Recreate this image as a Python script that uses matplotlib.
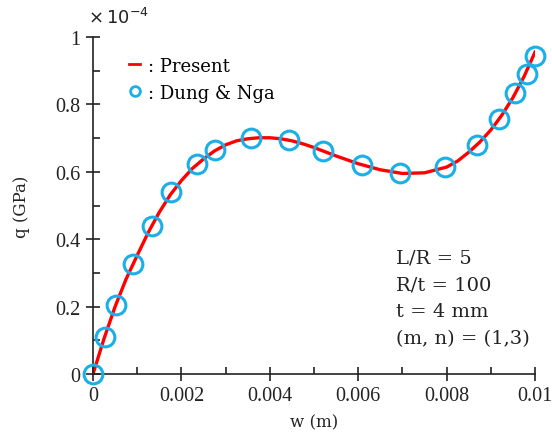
import matplotlib
matplotlib.use("Agg")
import matplotlib.pyplot as plt
from matplotlib.lines import Line2D

# Present (line), q in units of 1e-4 GPa
w_line = [0, 0.00025, 0.0005, 0.00075, 0.001, 0.00125, 0.0015, 0.00175, 0.002,
          0.00225, 0.0025, 0.00275, 0.003, 0.00325, 0.0035, 0.00375, 0.004, 0.00425,
          0.0045, 0.00475, 0.005, 0.0055, 0.006, 0.0065, 0.007, 0.0075, 0.008,
          0.00825, 0.0085, 0.00875, 0.009, 0.00925, 0.0095, 0.00975, 0.01]
q_line = [0, 0.105, 0.200, 0.282, 0.352, 0.420, 0.480, 0.532, 0.574,
          0.610, 0.638, 0.662, 0.680, 0.692, 0.698, 0.701, 0.701, 0.698,
          0.692, 0.683, 0.672, 0.647, 0.624, 0.606, 0.595, 0.597, 0.614,
          0.632, 0.658, 0.688, 0.724, 0.768, 0.820, 0.882, 0.955]

# Dung & Nga (markers)
w_ref = [0, 0.00027, 0.00051, 0.0009, 0.00133, 0.00176, 0.00235, 0.00276, 0.00357,
         0.00444, 0.00521, 0.00609, 0.00695, 0.00796, 0.00869, 0.00919, 0.00955,
         0.00981, 0.0100]
q_ref = [0, 0.110, 0.205, 0.326, 0.440, 0.541, 0.623, 0.666, 0.699,
         0.695, 0.661, 0.621, 0.597, 0.615, 0.680, 0.757, 0.833,
         0.890, 0.943]

x_ticks = [0, 0.002, 0.004, 0.006, 0.008, 0.01]
x_ticklabels = ["0", "0.002", "0.004", "0.006", "0.008", "0.01"]
y_ticks = [0, 0.2, 0.4, 0.6, 0.8, 1.0]
y_ticklabels = ["0", "0.2", "0.4", "0.6", "0.8", "1"]

params = ["L/R = 5", "R/t = 100", "t = 4 mm", "(m, n) = (1,3)"]

RED = "#FF0000"
BLUE = "#1AAFE6"

fig = plt.figure(figsize=(5.52, 4.39), dpi=100)
ax = fig.add_axes([93/552, 1-375/439, 442/552, 337/439])

ax.plot(w_line, q_line, color=RED, lw=2.4, zorder=2)
ax.plot(w_ref, q_ref, ls="none", marker="o", ms=13.5, mfc="none",
        mec=BLUE, mew=2.2, zorder=3, clip_on=False)

ax.set_xlim(0, 0.01)
ax.set_ylim(0, 1.0)
for s in ["top", "right"]:
    ax.spines[s].set_visible(False)
for s in ["left", "bottom"]:
    ax.spines[s].set_linewidth(1.2)
    ax.spines[s].set_color("#222222")

ax.set_xticks(x_ticks)
ax.set_xticklabels(x_ticklabels, family="Liberation Serif", fontsize=14.5, color="#222222")
ax.set_yticks(y_ticks)
ax.set_yticklabels(y_ticklabels, family="Liberation Serif", fontsize=14.5, color="#222222")
ax.set_xticks([0.001, 0.003, 0.005, 0.007, 0.009], minor=True)
ax.set_yticks([0.1, 0.3, 0.5, 0.7, 0.9], minor=True)
ax.tick_params(which="major", direction="inout", length=10, width=1.2, color="#222222", pad=4)
ax.tick_params(which="minor", direction="in", length=5, width=1.2, color="#222222")

ax.set_xlabel("w (m)", family="DejaVu Serif", fontsize=12, color="#222222", labelpad=6)
ax.set_ylabel("q (GPa)", family="DejaVu Serif", fontsize=12, color="#222222", labelpad=18)

ax.text(-0.012, 1.03, r"$\times\,10^{-4}$", transform=ax.transAxes, fontsize=13,
        family="DejaVu Serif", ha="left", va="bottom", color="#222222")

handles = [Line2D([], [], color=RED, lw=2),
           Line2D([], [], ls="none", marker="o", ms=7, mfc="none", mec=BLUE, mew=2)]
leg = ax.legend(handles, [": Present", ": Dung & Nga"], loc="upper left",
                bbox_to_anchor=(0.045, 0.99), frameon=False, handlelength=0.6,
                handletextpad=0.45, labelspacing=0.5,
                prop={"family": "DejaVu Serif", "size": 13})

ys = [0.347, 0.267, 0.187, 0.107]
for txt, yy in zip(params, ys):
    ax.text(0.685, yy, txt, transform=ax.transAxes, fontsize=14,
            family="DejaVu Serif", ha="left", va="center", color="#222222")

fig.savefig("out.png", dpi=100)
